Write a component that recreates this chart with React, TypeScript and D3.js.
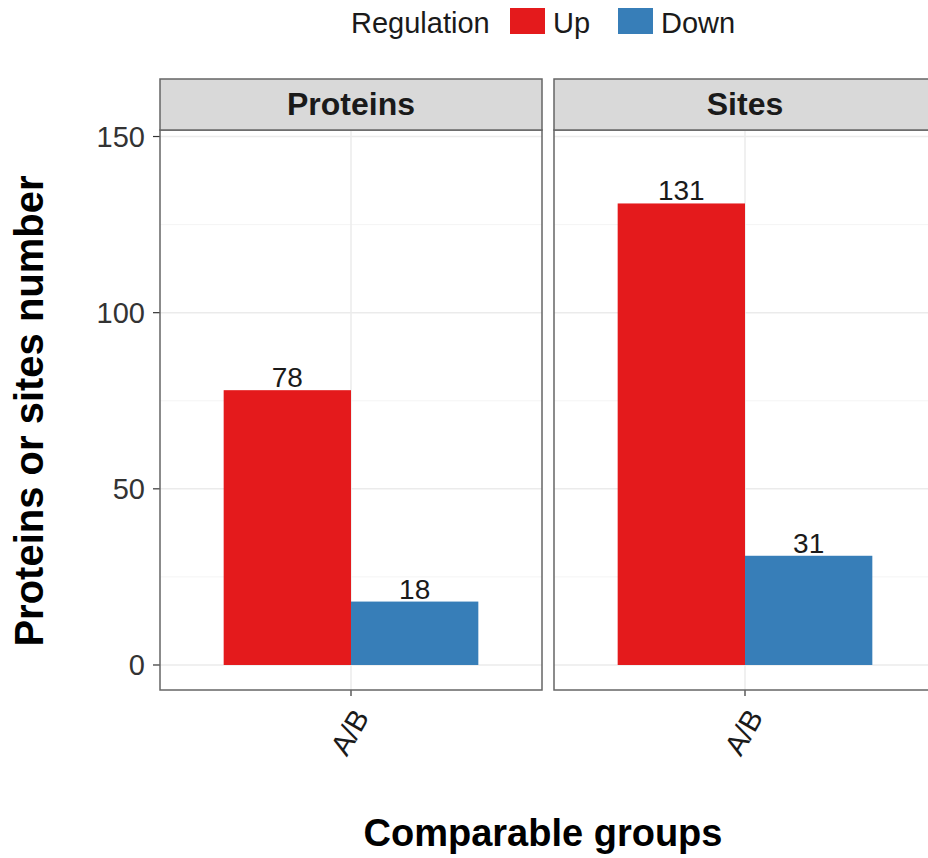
import * as d3 from "d3";

const facets = ["Proteins", "Sites"];
const groups = ["A/B"];
const regulation = ["Up", "Down"];
const upValues = [78, 131];
const downValues = [18, 31];
const yTicks = [0, 50, 100, 150];
const yMinorTicks = [25, 75, 125];
const colors = ["#E41A1C", "#377EB8"];

const W = 928;
const H = 858;
const FONT = "'Liberation Sans', Arial, Helvetica, sans-serif";

export default function App() {
  const panelTop = 130;
  const panelBottom = 690;
  const stripTop = 79;

  const fx = d3.scaleBand<string>().domain(facets).range([160, 936]).paddingInner(12 / 394);
  const pw = fx.bandwidth();
  // discrete x with ggplot-style 0.6 expansion
  const x = d3.scaleLinear().domain([0.4, groups.length + 0.6]).range([0, pw]);
  const y = d3.scaleLinear().domain([-7.1, 151.85]).range([panelBottom, panelTop]);
  const color = d3.scaleOrdinal<string, string>().domain(regulation).range(colors);

  const values = [upValues, downValues];
  const legendKeyX = [510, 618];

  return (
    <svg
      width={W}
      height={H}
      style={{ position: "absolute", left: 0, top: 0, background: "#fff" }}
      fontFamily={FONT}
    >
      {/* legend */}
      <g>
        <text x={351} y={33} fontSize={29} fill="#1a1a1a">Regulation</text>
        {regulation.map((r, i) => (
          <g key={r}>
            <rect x={legendKeyX[i]} y={8} width={35} height={26} fill={color(r)} />
            <text x={legendKeyX[i] + 43} y={33} fontSize={29} fill="#1a1a1a">{r}</text>
          </g>
        ))}
      </g>

      {/* y axis */}
      <g>
        {yTicks.map((t) => (
          <g key={t}>
            <text x={145} y={y(t) + 10.5} fontSize={29} textAnchor="end" fill="#333">{t}</text>
            <line x1={153} x2={160} y1={y(t)} y2={y(t)} stroke="#333" strokeWidth={1.2} />
          </g>
        ))}
        <text
          transform={`translate(43,411) rotate(-90)`}
          textAnchor="middle"
          fontSize={40}
          fontWeight="bold"
          fill="#000"
        >
          Proteins or sites number
        </text>
      </g>

      {facets.map((f, fi) => {
        const px = fx(f)!;
        return (
          <g key={f} transform={`translate(${px},0)`}>
            {/* panel */}
            <rect x={0} y={panelTop} width={pw} height={panelBottom - panelTop} fill="#fff" />
            {yMinorTicks.map((t) => (
              <line key={t} x1={0} x2={pw} y1={y(t)} y2={y(t)} stroke="#F4F4F4" strokeWidth={1} />
            ))}
            {yTicks.map((t) => (
              <line key={t} x1={0} x2={pw} y1={y(t)} y2={y(t)} stroke="#EBEBEB" strokeWidth={1.5} />
            ))}
            {groups.map((g, gi) => (
              <line key={g} x1={x(gi + 1)} x2={x(gi + 1)} y1={panelTop} y2={panelBottom} stroke="#EBEBEB" strokeWidth={1.5} />
            ))}
            {groups.map((g, gi) => {
              const inner = d3.scaleBand<string>().domain(regulation).range([x(gi + 0.6), x(gi + 1.4)]);
              return (
                <g key={g}>
                  {regulation.map((r, ri) => {
                    const v = values[ri][fi];
                    return (
                      <g key={r}>
                        <rect
                          x={inner(r)!}
                          y={y(v)}
                          width={inner.bandwidth()}
                          height={y(0) - y(v)}
                          fill={color(r)}
                        />
                        <text
                          x={inner(r)! + inner.bandwidth() / 2}
                          y={y(v) - 3}
                          textAnchor="middle"
                          fontSize={28}
                          fill="#1a1a1a"
                        >
                          {v}
                        </text>
                      </g>
                    );
                  })}
                  {/* x tick */}
                  <line x1={x(gi + 1)} x2={x(gi + 1)} y1={panelBottom} y2={panelBottom + 6} stroke="#333" strokeWidth={1.2} />
                  <text
                    transform={`translate(${x(gi + 1) + 19},${panelBottom + 27}) rotate(-60)`}
                    textAnchor="end"
                    fontSize={29}
                    fill="#1a1a1a"
                  >
                    {g}
                  </text>
                </g>
              );
            })}
            <rect x={0} y={panelTop} width={pw} height={panelBottom - panelTop} fill="none" stroke="#666" strokeWidth={1.5} />
            {/* strip */}
            <rect x={0} y={stripTop} width={pw} height={panelTop - stripTop} fill="#D9D9D9" stroke="#666" strokeWidth={1.5} />
            <text x={pw / 2} y={115} textAnchor="middle" fontSize={32} fontWeight="bold" fill="#1a1a1a">
              {f}
            </text>
          </g>
        );
      })}

      <text x={543} y={846} textAnchor="middle" fontSize={38} fontWeight="bold" fill="#000">
        Comparable groups
      </text>
    </svg>
  );
}
